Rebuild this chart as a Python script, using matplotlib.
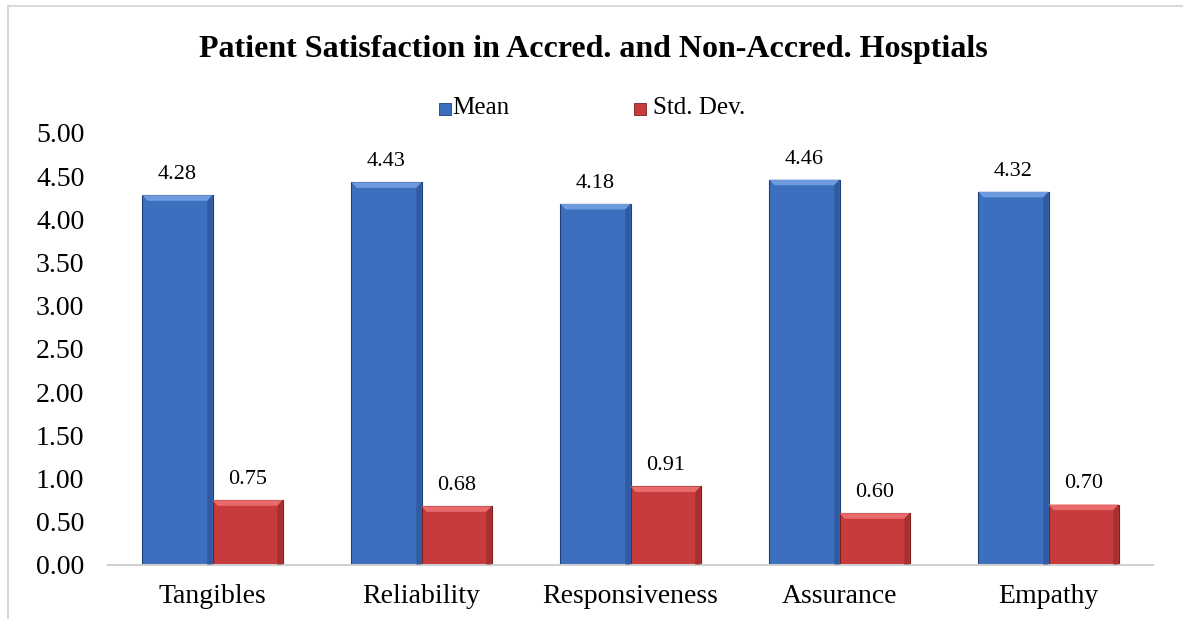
import numpy as np
import matplotlib.pyplot as plt
from matplotlib.patches import Polygon, Rectangle

plt.rcParams['font.family'] = ['Liberation Serif', 'DejaVu Serif']

# data
categories = ['Tangibles', 'Reliability', 'Responsiveness', 'Assurance', 'Empathy']
mean_vals = [4.28, 4.43, 4.18, 4.46, 4.32]
std_vals = [0.75, 0.68, 0.91, 0.60, 0.70]

fig = plt.figure(figsize=(11.83, 6.19), dpi=100)
ax = fig.add_axes([108/1183, 1 - 565/619, (1153-108)/1183, (565-133)/619])

x = np.arange(len(categories))
w = 0.335

def bevel_bars(ax, xs, vals, base, light, dark):
    bars = ax.bar(xs, vals, w, color=base, edgecolor=dark, linewidth=0.8, zorder=2)
    # fake excel bevel: light top, darker sides
    bx, by = 0.025, 0.065
    for b in bars:
        x0, h = b.get_x(), b.get_height()
        x1 = x0 + b.get_width()
        top = Polygon([(x0, h), (x1, h), (x1 - bx, h - by), (x0 + bx, h - by)],
                      closed=True, facecolor=light, edgecolor='none', zorder=3)
        right = Polygon([(x1, h), (x1 - bx, h - by), (x1 - bx, 0), (x1, 0)],
                        closed=True, facecolor=dark, alpha=0.4, edgecolor='none', zorder=3)
        ax.add_patch(top)
        ax.add_patch(right)
    return bars

b1 = bevel_bars(ax, x - w/2, mean_vals, '#3C6FBE', '#6E9BDD', '#1F3F78')
b2 = bevel_bars(ax, x + w/2, std_vals, '#C83B3C', '#E86A6A', '#7A1E1E')

for b, v in zip(list(b1) + list(b2), mean_vals + std_vals):
    ax.annotate('%.2f' % v, (b.get_x() + b.get_width()/2, v), xytext=(0, 8),
                textcoords='offset points', ha='center', va='bottom', fontsize=16)

ax.set_xlim(-0.5, 4.5)
ax.set_ylim(0, 5)
ax.set_yticks(np.arange(0, 5.01, 0.5))
ax.set_yticklabels(['%.2f' % t for t in np.arange(0, 5.01, 0.5)], fontsize=20)
ax.set_xticks(x)
ax.set_xticklabels(categories, fontsize=20)
ax.tick_params(axis='x', length=0, pad=14)
ax.tick_params(axis='y', length=0, pad=17)
for s in ['top', 'right', 'left']:
    ax.spines[s].set_visible(False)
ax.spines['bottom'].set_color('#D0D0D0')
ax.spines['bottom'].set_linewidth(1.5)

fig.text(593/1183, 1 - 50/619, 'Patient Satisfaction in Accred. and Non-Accred. Hosptials',
         ha='center', va='center', fontsize=23, fontweight='bold')

# legend
fig.patches.append(Rectangle((439/1183, 1 - 115/619), 12/1183, 12/619, transform=fig.transFigure,
                             facecolor='#3C6FBE', edgecolor='#1F3F78', linewidth=0.6))
fig.text(452/1183, 1 - 108/619, 'Mean', ha='left', va='center', fontsize=18)
fig.patches.append(Rectangle((634/1183, 1 - 115/619), 12/1183, 12/619, transform=fig.transFigure,
                             facecolor='#C83B3C', edgecolor='#7A1E1E', linewidth=0.6))
fig.text(653/1183, 1 - 108/619, 'Std. Dev.', ha='left', va='center', fontsize=18)

# chart area border
fig.patches.append(Rectangle((8/1183, -0.01), 1.1, 1 - 6/619 + 0.01, transform=fig.transFigure,
                             facecolor='none', edgecolor='#D9D9D9', linewidth=1.5))

fig.savefig('out.png', dpi=100)
